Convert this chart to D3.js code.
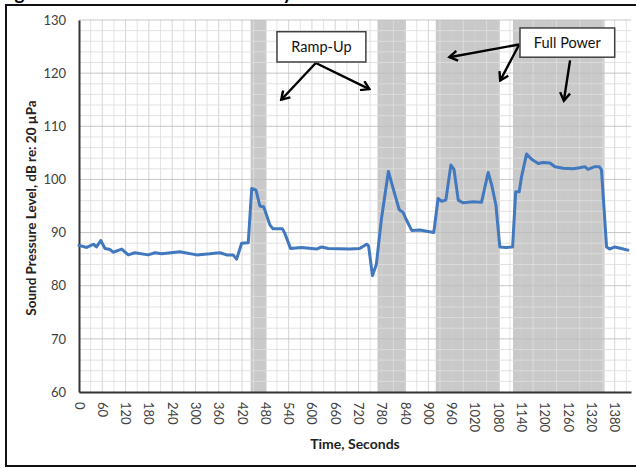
<!DOCTYPE html>
<html>
<head>
<meta charset="utf-8">
<script src="https://cdn.jsdelivr.net/npm/d3@7"></script>
<style>
  html, body { margin: 0; padding: 0; background: #fff; }
  svg { display: block; font-family: Lato, "Open Sans", sans-serif; }
</style>
</head>
<body>
<svg id="chart" width="636" height="468"></svg>
<script>
// Measured sound pressure level over the test run (seconds, dB re 20 µPa)
const times = [0, 20, 37, 45, 56, 67, 80, 88, 110, 127, 144, 178, 196, 213, 260, 303, 337, 363, 380, 397,
  406, 419, 436, 445, 456, 466, 476, 492, 500, 524, 530, 545, 573, 612, 625, 642, 698, 723, 741, 746,
  756, 766, 779, 797, 815, 825, 835, 842, 857, 878, 899, 914, 925, 934, 945, 958, 966, 977, 989, 1015,
  1037, 1054, 1063, 1074, 1084, 1101, 1117, 1125, 1134, 1140, 1153, 1166, 1183, 1195, 1213, 1226, 1247, 1273, 1290, 1303,
  1311, 1329, 1340, 1346, 1359, 1367, 1380, 1397, 1414];
const levels = [87.6, 87.2, 87.8, 87.3, 88.5, 87.0, 86.8, 86.3, 86.9, 85.8, 86.2, 85.8, 86.2, 86.0, 86.4, 85.8, 86.0, 86.2, 85.8, 85.8,
  85.0, 88.0, 88.1, 98.3, 98.0, 95.0, 94.8, 91.4, 90.7, 90.7, 89.9, 87.0, 87.2, 86.9, 87.3, 87.0, 86.9, 87.0, 87.8, 87.5,
  81.9, 84.0, 92.5, 101.5, 96.8, 94.3, 93.8, 92.6, 90.4, 90.5, 90.2, 90.0, 96.4, 95.9, 96.1, 102.7, 101.9, 96.1, 95.6, 95.8,
  95.7, 101.3, 99.0, 95.2, 87.3, 87.2, 87.3, 97.7, 97.7, 100.5, 104.8, 103.8, 103.0, 103.2, 103.1, 102.4, 102.1, 102.0, 102.2, 102.4,
  101.9, 102.4, 102.4, 101.8, 87.3, 86.9, 87.3, 87.0, 86.7];

// Operating periods shaded behind the trace (seconds)
const periodStart = [442, 769, 919, 1118];
const periodEnd   = [483, 842, 1084, 1354];

// Axis ticks
const xTickValues = d3.range(0, 1381, 60);
const yTickValues = d3.range(60, 131, 10);

// Callout text and the points (seconds, dB) their boxes and arrows refer to
const calloutLabels = ["Ramp-Up", "Full Power"];
const calloutBoxes = [
  { t0: 510, t1: 739, v0: 127.8, v1: 122.1 },
  { t0: 1136, t1: 1380, v0: 128.5, v1: 123.0 }
];
const calloutArrows = [
  [{ t: 610, v: 121.9 }, { t: 521, v: 115.0 }],
  [{ t: 610, v: 121.9 }, { t: 748, v: 117.0 }],
  [{ t: 1134, v: 125.4 }, { t: 954, v: 123.0 }],
  [{ t: 1134, v: 125.4 }, { t: 1085, v: 118.6 }],
  [{ t: 1265, v: 122.4 }, { t: 1249, v: 114.8 }]
];

const svg = d3.select("#chart");
const plotLeft = 79, plotRight = 631, plotTop = 20, plotBottom = 392;

const x = d3.scaleLinear().domain([0, 1422]).range([plotLeft, plotRight]);
const y = d3.scaleLinear().domain([60, 130]).range([plotBottom, plotTop]);

// Figure caption above the frame (only its lower edge falls inside the page)
svg.append("text")
  .attr("x", -1).attr("y", 0)
  .attr("font-size", 19).attr("font-weight", 700).attr("fill", "#000")
  .text("Figure 5. Sound Level Time History");

// Frame
svg.append("rect")
  .attr("x", 6).attr("y", 5).attr("width", 640).attr("height", 461)
  .attr("fill", "#fff").attr("stroke", "#111").attr("stroke-width", 2);

// Shaded operating periods
svg.append("g").selectAll("rect")
  .data(periodStart.map((s, i) => [s, periodEnd[i]]))
  .join("rect")
  .attr("x", d => x(d[0])).attr("y", plotTop)
  .attr("width", d => x(d[1]) - x(d[0])).attr("height", plotBottom - plotTop)
  .attr("fill", "#c9c9c9");

// Gridlines
const grid = svg.append("g");
grid.selectAll("line.vg")
  .data(d3.range(30, 1411, 30))
  .join("line")
  .attr("x1", d => x(d)).attr("x2", d => x(d))
  .attr("y1", plotTop).attr("y2", plotBottom)
  .attr("stroke", d => d % 60 === 0 ? "#cfcfcf" : "#dedede")
  .attr("stroke-opacity", 0.85)
  .attr("stroke-width", 1);
grid.selectAll("line.hg")
  .data(d3.range(62, 131, 2))
  .join("line")
  .attr("x1", plotLeft).attr("x2", plotRight)
  .attr("y1", d => y(d)).attr("y2", d => y(d))
  .attr("stroke", d => d % 10 === 0 ? "#bdbdbd" : "#dedede")
  .attr("stroke-opacity", 0.85)
  .attr("stroke-width", 1);

// Axes
const yAxis = d3.axisLeft(y).tickValues(yTickValues).tickSize(0).tickPadding(13);
const gy = svg.append("g").attr("transform", `translate(${plotLeft},0)`).call(yAxis);
gy.select(".domain").attr("stroke", "#333").attr("stroke-width", 2);
gy.selectAll("text").attr("font-size", 13).attr("fill", "#404040")
  .attr("font-family", "Lato, sans-serif");

const xAxis = d3.axisBottom(x).tickValues(xTickValues).tickSize(0).tickFormat(d3.format("d"));
const gx = svg.append("g").attr("transform", `translate(0,${plotBottom})`).call(xAxis);
gx.select(".domain").attr("stroke", "#333").attr("stroke-width", 2);
gx.selectAll("text")
  .attr("font-size", 13).attr("fill", "#404040").attr("font-family", "Lato, sans-serif")
  .attr("text-anchor", "start").attr("dy", null).attr("y", 0)
  .attr("dominant-baseline", "central")
  .attr("transform", "translate(0,10) rotate(90)");

// Axis titles
svg.append("text")
  .attr("x", (plotLeft + plotRight) / 2).attr("y", 449)
  .attr("text-anchor", "middle")
  .attr("font-size", 14).attr("font-weight", 700).attr("fill", "#222")
  .text("Time, Seconds");
svg.append("text")
  .attr("transform", `translate(36,${(plotTop + plotBottom) / 2 + 2}) rotate(-90)`)
  .attr("text-anchor", "middle")
  .attr("font-size", 13.5).attr("font-weight", 700).attr("fill", "#222")
  .text("Sound Pressure Level, dB re: 20 µPa");

// Level trace
const line = d3.line().x((d, i) => x(times[i])).y(d => y(d));
svg.append("path")
  .datum(levels)
  .attr("d", line)
  .attr("fill", "none")
  .attr("stroke", "#4178be")
  .attr("stroke-width", 3)
  .attr("stroke-linejoin", "round")
  .attr("stroke-linecap", "round");

// Callouts
const defs = svg.append("defs");
defs.append("marker")
  .attr("id", "head")
  .attr("markerUnits", "userSpaceOnUse")
  .attr("viewBox", "0 0 12 12")
  .attr("refX", 10).attr("refY", 6)
  .attr("markerWidth", 12).attr("markerHeight", 12)
  .attr("orient", "auto")
  .append("path")
  .attr("d", "M2,1 L10,6 L2,11")
  .attr("fill", "none").attr("stroke", "#000").attr("stroke-width", 2.4)
  .attr("stroke-linejoin", "miter");

svg.append("g").selectAll("line")
  .data(calloutArrows)
  .join("line")
  .attr("x1", d => x(d[0].t)).attr("y1", d => y(d[0].v))
  .attr("x2", d => x(d[1].t)).attr("y2", d => y(d[1].v))
  .attr("stroke", "#000").attr("stroke-width", 2.4)
  .attr("marker-end", "url(#head)");

const boxes = svg.append("g").selectAll("g")
  .data(calloutBoxes)
  .join("g");
boxes.append("rect")
  .attr("x", d => x(d.t0)).attr("y", d => y(d.v0))
  .attr("width", d => x(d.t1) - x(d.t0)).attr("height", d => y(d.v1) - y(d.v0))
  .attr("fill", "#fff").attr("stroke", "#404040").attr("stroke-width", 1.5);
boxes.append("text")
  .attr("x", d => (x(d.t0) + x(d.t1)) / 2)
  .attr("y", d => (y(d.v0) + y(d.v1)) / 2)
  .attr("text-anchor", "middle").attr("dominant-baseline", "central")
  .attr("font-size", 14.5).attr("fill", "#111")
  .text((d, i) => calloutLabels[i]);
</script>
</body>
</html>
